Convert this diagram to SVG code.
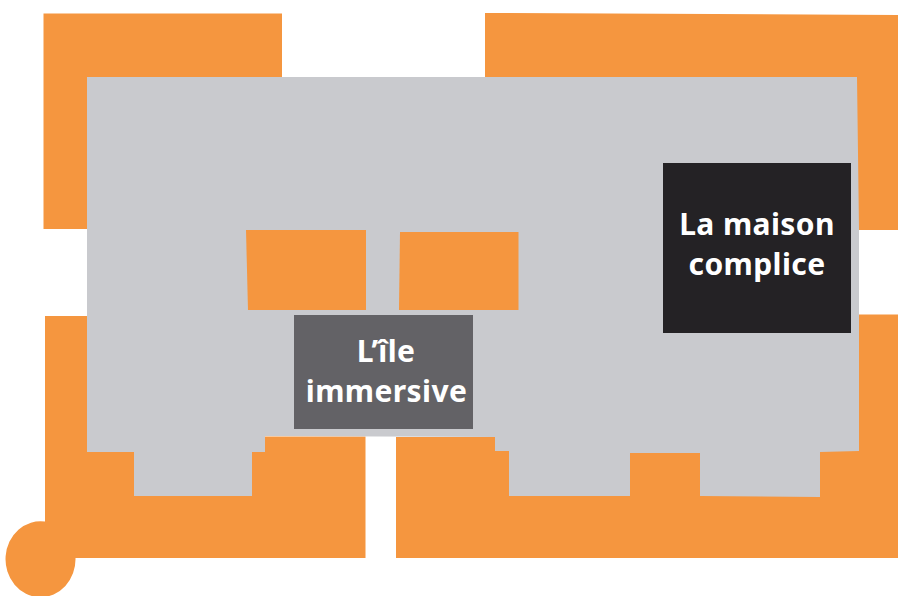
<svg xmlns="http://www.w3.org/2000/svg" width="898" height="596" viewBox="0 0 898 596">
<style>
.o{fill:#F5963F}
.g{fill:#C9CACE}
.t{font-family:"Noto Sans","Open Sans",sans-serif;font-weight:700;font-size:30px;fill:#fff;text-anchor:middle;letter-spacing:.4px}
</style>
<rect width="898" height="596" fill="#fff"/>
<g id="orange-surround">
<path class="o" d="M43.500 13.500H282V100H87V229H43.500Z"/>
<path class="o" d="M485 13L898 15V230H857V100H485Z"/>
<path class="o" d="M45 316H100V440H265V436.500H365.500V558H75.500A35 38 0 1 1 45 521.500Z"/>
<path class="o" d="M396 437H500V445H840V314.500H898V558H396Z"/>
</g>
<g id="floor">
<path class="g" d="M87 77H857L859 230V451L820 452V497L700 496V453L630 453V496H509V451H495V437L265 436V452H252V496H134V452H87Z"/>
</g>
<g id="island-orange-left"><path class="o" d="M246 230H366V310H248Z"/></g>
<g id="island-orange-right"><path class="o" d="M400 232L518.500 232V310H399Z"/></g>
<g id="ile-immersive">
<rect x="294" y="315" width="179" height="114" fill="#636266"/>
<text class="t" x="386" y="362">L’île</text>
<text class="t" x="386.500" y="402">immersive</text>
</g>
<g id="maison-complice">
<rect x="663" y="163" width="188" height="170" fill="#242225"/>
<text class="t" x="757" y="235">La maison</text>
<text class="t" x="757" y="275">complice</text>
</g>
<g id="connectors"/>
</svg>
